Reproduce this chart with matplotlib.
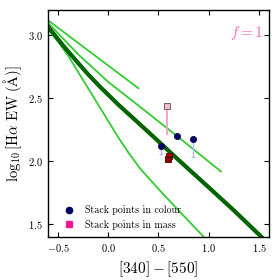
import matplotlib
matplotlib.use("Agg")
import matplotlib.pyplot as plt
from matplotlib.lines import Line2D
import numpy as np

plt.rcParams['font.family'] = ['cmr10', 'DejaVu Serif']
plt.rcParams['mathtext.fontset'] = 'cm'
plt.rcParams['axes.formatter.use_mathtext'] = True

# model tracks
thick_x = [-0.6, -0.45, -0.31, -0.2, -0.08, 0.1, 0.32, 0.47, 0.7, 0.99, 1.25, 1.55]
thick_y = [3.07, 2.92, 2.79, 2.69, 2.59, 2.45, 2.29, 2.18, 2.01, 1.80, 1.61, 1.38]

line_a_x = [-0.6, -0.1, 0.30]
line_a_y = [3.12, 2.82, 2.58]

line_b_x = [-0.6, -0.3, 0.0, 0.32, 0.7, 1.12]
line_b_y = [3.10, 2.85, 2.63, 2.43, 2.19, 1.92]

line_c_x = [-0.6, -0.5, -0.4, -0.3, -0.2, -0.1, 0.0, 0.1, 0.2, 0.32, 0.5, 0.7, 0.95, 1.0]
line_c_y = [3.05, 2.95, 2.84, 2.71, 2.58, 2.45, 2.32, 2.19, 2.07, 1.94, 1.78, 1.61, 1.40, 1.36]

# stack points in colour
col_x = [0.53, 0.68, 0.84]
col_y = [2.12, 2.20, 2.18]
col_err_lo = [0.06, 0.0, 0.15]

# stack points in mass
mass_x = [0.58, 0.60, 0.59]
mass_y = [2.44, 2.04, 2.02]
mass_err_lo = [0.22, 0.0, 0.0]
mass_colors = ['#f7b8c8', '#b00000', '#8a0000']

fig = plt.figure(figsize=(2.8, 2.8), dpi=100)
ax = fig.add_axes([0.171, 0.154, 0.79, 0.81])

lime = '#33cc33'
ax.plot(line_a_x, line_a_y, color=lime, lw=1.3)
ax.plot(line_b_x, line_b_y, color=lime, lw=1.3)
ax.plot(line_c_x, line_c_y, color=lime, lw=1.3)
ax.plot(thick_x, thick_y, color='#006400', lw=3.0, solid_capstyle='butt')

for x, y, e in zip(col_x, col_y, col_err_lo):
    if e > 0:
        ax.errorbar([x], [y], yerr=[[e], [0]], fmt='none', ecolor='#b8b8e8',
                    elinewidth=1.0, capsize=1.5, capthick=0.8)
ax.plot(col_x, col_y, 'o', color='#000066', ms=4.5, mec='#000044', mew=0.5, ls='none')

for x, y, e, c in zip(mass_x, mass_y, mass_err_lo, mass_colors):
    if e > 0:
        ax.errorbar([x], [y], yerr=[[e], [0]], fmt='none', ecolor='#f0a0c8',
                    elinewidth=1.3, capsize=1.0, capthick=1.0)
    ax.plot([x], [y], 's', color=c, ms=4, mec='#555555' if e > 0 else '#550000', mew=0.6)

ax.set_xlim(-0.6, 1.6)
ax.set_ylim(1.4, 3.2)
ax.set_xticks([-0.5, 0.0, 0.5, 1.0, 1.5])
ax.set_yticks([1.5, 2.0, 2.5, 3.0])
ax.tick_params(direction='in', top=True, right=True, labelsize=7.5, length=3.5, width=0.8)
for s in ax.spines.values():
    s.set_linewidth(1.0)

ax.set_xlabel(r'$[340]-[550]$', fontsize=11, labelpad=4)
ax.set_ylabel(r'$\log_{10}[\mathrm{H}\alpha\ \mathrm{EW}\ (\mathrm{\AA})]$', fontsize=10.5, labelpad=3)

ax.text(0.975, 0.9, r'$f=1$', transform=ax.transAxes, ha='right', va='center',
        color='#ff69b4', fontsize=11)

handles = [Line2D([], [], marker='o', color='#000066', ls='none', ms=4.5),
           Line2D([], [], marker='s', color='#ff1493', ls='none', ms=4)]
ax.legend(handles, ['Stack points in colour', 'Stack points in mass'],
          loc='lower left', frameon=False, fontsize=7.2, handletextpad=0.6,
          borderaxespad=0.3, labelspacing=0.45, bbox_to_anchor=(0.02, 0.0))

fig.savefig('out.png', dpi=100)
